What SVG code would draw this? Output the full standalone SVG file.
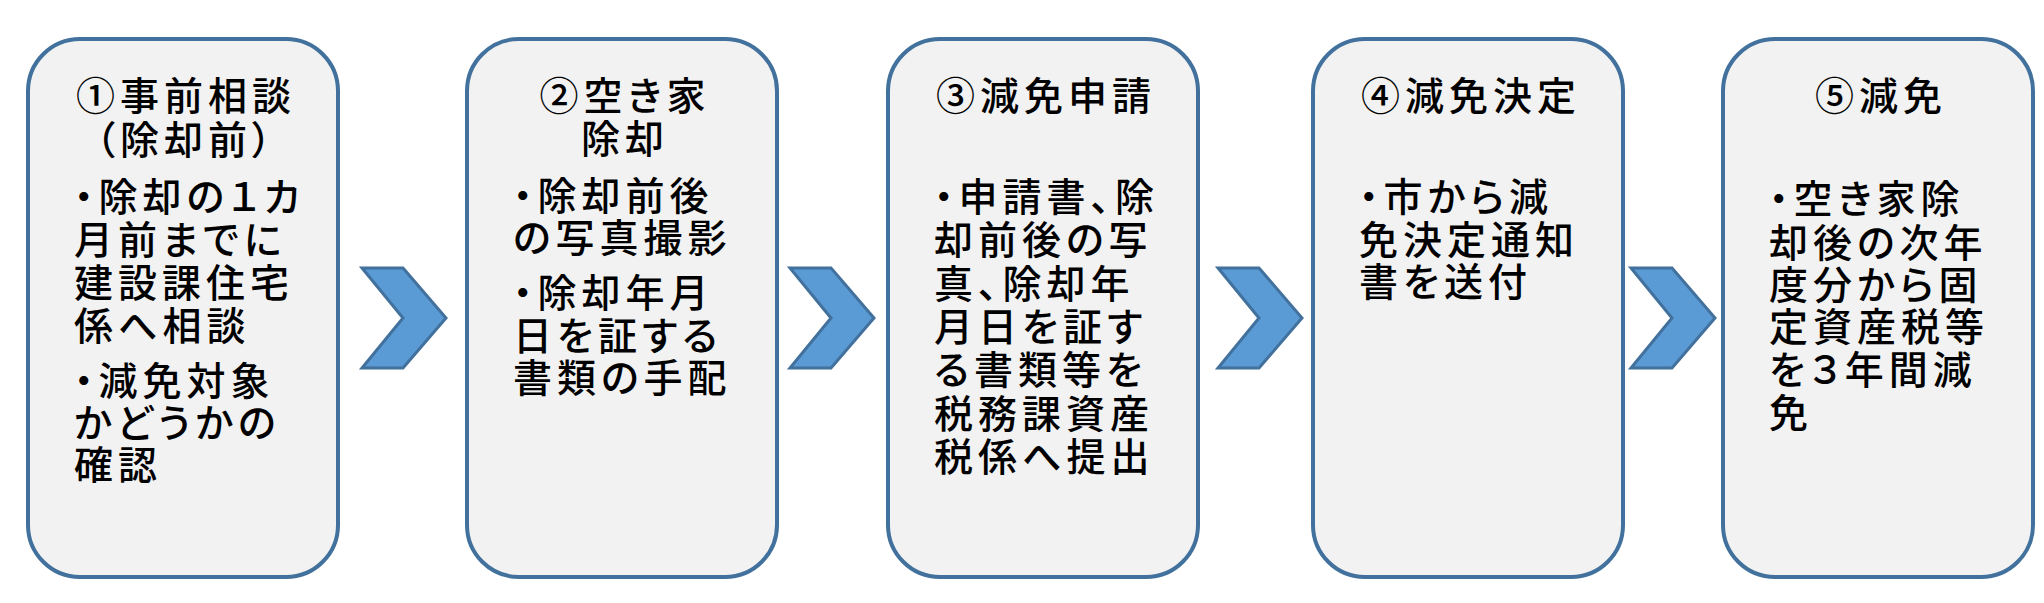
<svg xmlns="http://www.w3.org/2000/svg" width="2044" height="603" viewBox="0 0 2044 603">
<style>
.box{fill:#F2F2F2;stroke:#41719C;stroke-width:4}
.arr{fill:#5B9BD5;stroke:#41719C;stroke-width:3;stroke-linejoin:miter}
text{font-family:"Noto Sans CJK JP","Noto Sans CJK SC",sans-serif;font-size:39px;font-weight:500;fill:#000;letter-spacing:5px;font-feature-settings:"palt"}
.t{text-anchor:middle}
</style>
<rect width="2044" height="603" fill="#FFFFFF"/>
<g id="connectors">
<polygon class="arr" points="362,268 403,268 446,318 403,368 362,368 403,318"/>
<polygon class="arr" points="790,268 831,268 874,318 831,368 790,368 831,318"/>
<polygon class="arr" points="1218,268 1259,268 1302,318 1259,368 1218,368 1259,318"/>
<polygon class="arr" points="1631,268 1672,268 1715,318 1672,368 1631,368 1672,318"/>
</g>
<g id="node1">
<rect class="box" x="28" y="39" width="310" height="538" rx="52"/>
<text class="t" x="186" y="110">①事前相談</text>
<text class="t" x="186" y="154">（除却前）</text>
<text x="74" y="211">・除却の１カ</text>
<text x="74" y="254">月前までに</text>
<text x="74" y="297">建設課住宅</text>
<text x="74" y="340">係へ相談</text>
<text x="74" y="395">・減免対象</text>
<text x="74" y="437">かどうかの</text>
<text x="74" y="479">確認</text>
</g>
<g id="node2">
<rect class="box" x="467" y="39" width="310" height="538" rx="52"/>
<text class="t" x="625" y="110">②空き家</text>
<text class="t" x="625" y="153">除却</text>
<text x="513" y="210">・除却前後</text>
<text x="513" y="252">の写真撮影</text>
<text x="513" y="307">・除却年月</text>
<text x="513" y="350">日を証する</text>
<text x="513" y="392">書類の手配</text>
</g>
<g id="node3">
<rect class="box" x="888" y="39" width="310" height="538" rx="52"/>
<text class="t" x="1046" y="110">③減免申請</text>
<text x="934" y="211">・申請書、除</text>
<text x="934" y="254">却前後の写</text>
<text x="934" y="298">真、除却年</text>
<text x="934" y="341">月日を証す</text>
<text x="934" y="384">る書類等を</text>
<text x="934" y="428">税務課資産</text>
<text x="934" y="471">税係へ提出</text>
</g>
<g id="node4">
<rect class="box" x="1313" y="39" width="310" height="538" rx="52"/>
<text class="t" x="1471" y="110">④減免決定</text>
<text x="1359" y="211">・市から減</text>
<text x="1359" y="254">免決定通知</text>
<text x="1359" y="296">書を送付</text>
</g>
<g id="node5">
<rect class="box" x="1723" y="39" width="310" height="538" rx="52"/>
<text class="t" x="1881" y="110">⑤減免</text>
<text x="1769" y="213">・空き家除</text>
<text x="1769" y="257">却後の次年</text>
<text x="1769" y="299">度分から固</text>
<text x="1769" y="341">定資産税等</text>
<text x="1769" y="384">を３年間減</text>
<text x="1769" y="427">免</text>
</g>
</svg>
